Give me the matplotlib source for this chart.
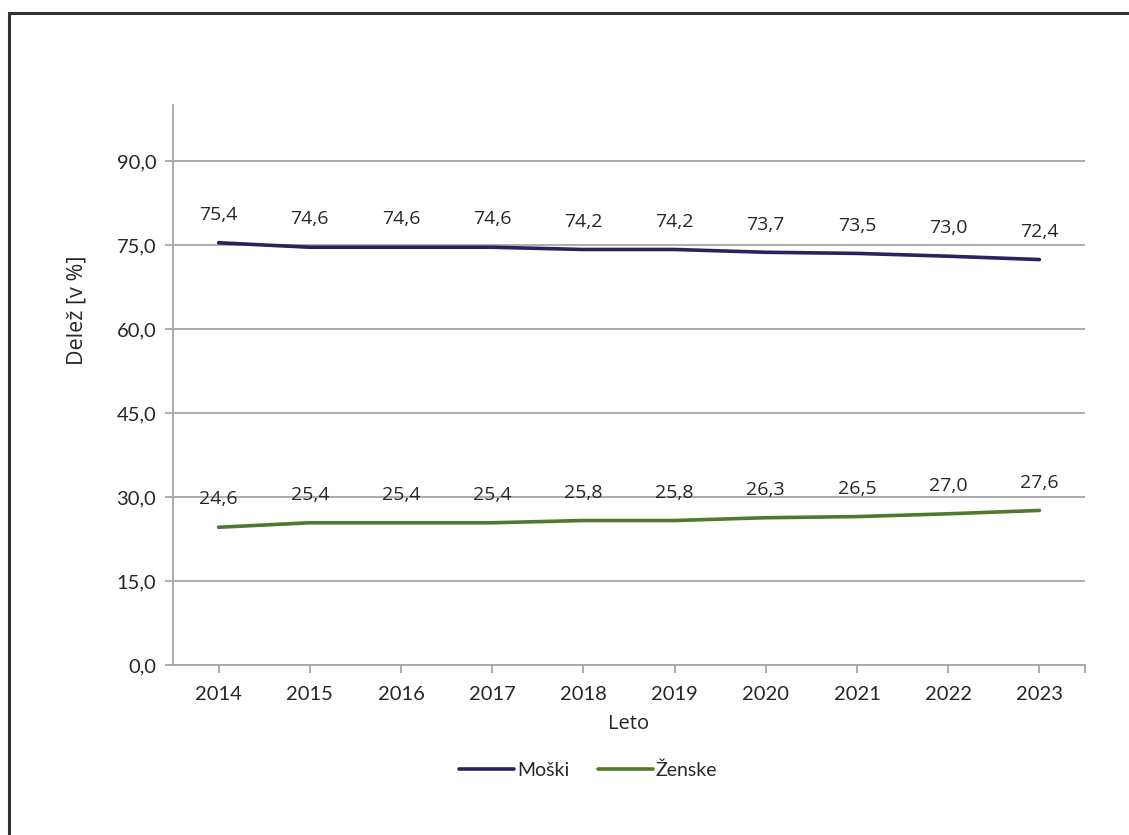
import numpy as np
import matplotlib.pyplot as plt
from matplotlib.patches import Rectangle

years = ['2014', '2015', '2016', '2017', '2018', '2019', '2020', '2021', '2022', '2023']
moski = [75.4, 74.6, 74.6, 74.6, 74.2, 74.2, 73.7, 73.5, 73.0, 72.4]
zenske = [24.6, 25.4, 25.4, 25.4, 25.8, 25.8, 26.3, 26.5, 27.0, 27.6]
yticks = [0, 15, 30, 45, 60, 75, 90]

plt.rcParams['font.family'] = ['Lato', 'DejaVu Sans']

fig = plt.figure(figsize=(11.29, 8.35), dpi=100)
ax = fig.add_axes([173/1129, 1 - 665/835, (1085 - 173)/1129, (665 - 105)/835])

# okvir okoli slike
fig.patches.append(Rectangle((9/1129, -0.1), 1.2, 1 - 13/835 + 0.1, transform=fig.transFigure,
                             fill=False, edgecolor='#333333', linewidth=2.2))

x = np.arange(len(years))
ax.plot(x, moski, color='#2E1F5E', linewidth=2.6, label='Moški', solid_capstyle='round')
ax.plot(x, zenske, color='#50782F', linewidth=2.6, label='Ženske', solid_capstyle='round')

# oznake vrednosti nad točkami
for serija in (moski, zenske):
    for xi, v in zip(x, serija):
        ax.annotate(f'{v:.1f}'.replace('.', ','), (xi, v), xytext=(0, 20), textcoords='offset points',
                    ha='center', va='center', fontsize=14, color='#262626',
                    family=['Open Sans', 'DejaVu Sans'])

ax.set_xlim(-0.5, 9.5)
ax.set_ylim(0, 100)
ax.set_yticks(yticks)
ax.set_yticklabels([f'{t:.1f}'.replace('.', ',') for t in yticks])
ax.set_xticks(list(x) + [9.5])
ax.set_xticklabels(years + [''])
ax.grid(axis='y', color='#A6A6A6', linewidth=1.3)
ax.set_axisbelow(True)

for s in ['top', 'right']:
    ax.spines[s].set_visible(False)
for s in ['left', 'bottom']:
    ax.spines[s].set_color('#A6A6A6')
    ax.spines[s].set_linewidth(1.3)
ax.tick_params(axis='both', colors='#A6A6A6', width=1.3, length=6, labelsize=14.5,
               labelcolor='#262626')
ax.tick_params(axis='x', pad=9)
ax.tick_params(axis='y', pad=6)

ax.set_xlabel('Leto', fontsize=14.5, color='#262626', labelpad=8,
              family=['Open Sans', 'DejaVu Sans'])
ax.set_ylabel('Delež [v %]', fontsize=15.5, color='#262626',
              family=['Open Sans', 'DejaVu Sans'])
ax.yaxis.set_label_coords(-0.094, 0.634)

fig.legend(loc='center', bbox_to_anchor=(0.521, 1 - 770/835), ncol=2, frameon=False,
           fontsize=14, handlelength=2.8, handletextpad=0.15, columnspacing=1.5,
           labelcolor='#262626')

fig.savefig('out.png', dpi=100)
